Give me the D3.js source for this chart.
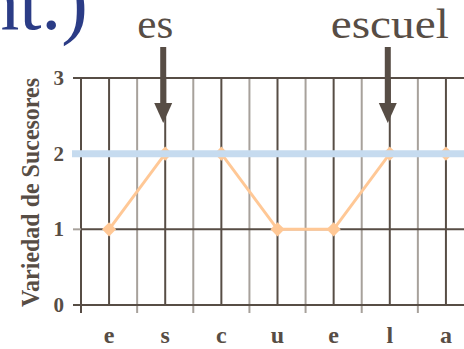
<!DOCTYPE html>
<html>
<head>
<meta charset="utf-8">
<script src="https://cdn.jsdelivr.net/npm/d3@7"></script>
<style>
  html, body { margin: 0; padding: 0; background: #fff; overflow: hidden; }
  svg { display: block; }
</style>
</head>
<body>
<div id="chart"></div>
<script>
var width = 464;
var height = 349;

// letters of the word, one per position
var letters = ["e", "s", "c", "u", "e", "l", "a"];
// successor variety for each prefix
var successors = [1, 2, 2, 1, 1, 2, 2];
var yTicks = [0, 1, 2, 3];
var threshold = 2;
// arrows over the cut points
var cutLabels = ["es", "escuel"];
var cutIndex = [1, 5];

var dark = "#574d45";
var light = "#a7a19b";
var serif = "'Liberation Serif', 'Times New Roman', serif";

var svg = d3.select("#chart")
    .append("svg")
    .attr("width", width)
    .attr("height", height)
    .attr("font-family", serif);

var x = d3.scaleBand()
    .domain(d3.range(letters.length))
    .range([81, 474]);

var y = d3.scaleLinear()
    .domain([0, 3])
    .range([305, 78]);

function cx(i) { return x(i) + x.bandwidth() / 2; }

// title fragment, cut off at the top-left
svg.append("text")
    .attr("x", 88)
    .attr("y", 29)
    .attr("text-anchor", "end")
    .attr("font-size", 80)
    .attr("fill", "#2b3c86")
    .text("(cont.)");

var grid = svg.append("g");

// boundary lines (lighter) with ticks below the axis
var bounds = d3.range(letters.length + 1).map(function(i) {
  return i < letters.length ? x(i) : x(i - 1) + x.bandwidth();
});
grid.selectAll(".bound")
    .data(bounds)
  .enter().append("line")
    .attr("x1", function(d) { return d; })
    .attr("x2", function(d) { return d; })
    .attr("y1", y(3))
    .attr("y2", y(0) + 8)
    .attr("stroke", function(d, i) { return i == 0 ? dark : light; })
    .attr("stroke-width", 2);

// lines through each letter
grid.selectAll(".center")
    .data(letters)
  .enter().append("line")
    .attr("x1", function(d, i) { return cx(i); })
    .attr("x2", function(d, i) { return cx(i); })
    .attr("y1", y(3))
    .attr("y2", y(0))
    .attr("stroke", dark)
    .attr("stroke-width", 2);

// horizontal lines + y ticks
grid.selectAll(".hline")
    .data(yTicks)
  .enter().append("line")
    .attr("x1", 81)
    .attr("x2", width)
    .attr("y1", function(d) { return y(d); })
    .attr("y2", function(d) { return y(d); })
    .attr("stroke", dark)
    .attr("stroke-width", 2);

grid.selectAll(".ytick")
    .data(yTicks)
  .enter().append("line")
    .attr("x1", 73)
    .attr("x2", 81)
    .attr("y1", function(d) { return y(d); })
    .attr("y2", function(d) { return y(d); })
    .attr("stroke", function(d) { return (d == 0 || d == 3) ? dark : light; })
    .attr("stroke-width", 2);

// y tick labels
svg.selectAll(".ylab")
    .data(yTicks)
  .enter().append("text")
    .attr("x", 64)
    .attr("y", function(d) { return y(d) + 7; })
    .attr("text-anchor", "end")
    .attr("font-size", 21)
    .attr("font-weight", "bold")
    .attr("fill", dark)
    .text(function(d) { return d; });

// x tick labels
svg.selectAll(".xlab")
    .data(letters)
  .enter().append("text")
    .attr("x", function(d, i) { return cx(i); })
    .attr("y", 343)
    .attr("text-anchor", "middle")
    .attr("font-size", 24)
    .attr("font-weight", "bold")
    .attr("fill", dark)
    .text(function(d) { return d; });

// y axis title
svg.append("text")
    .attr("transform", "translate(39," + (y(0) + 2) + ") rotate(-90)")
    .attr("font-size", 25)
    .attr("font-weight", "bold")
    .attr("fill", dark)
    .attr("textLength", 229)
    .attr("lengthAdjust", "spacingAndGlyphs")
    .text("Variedad de Sucesores");

// successor variety line
var line = d3.line()
    .x(function(d, i) { return cx(i); })
    .y(function(d) { return y(d); });

svg.append("path")
    .datum(successors)
    .attr("d", line)
    .attr("fill", "none")
    .attr("stroke", "#ffc896")
    .attr("stroke-width", 3);

svg.selectAll(".pt")
    .data(successors)
  .enter().append("path")
    .attr("transform", function(d, i) { return "translate(" + cx(i) + "," + y(d) + ") rotate(45)"; })
    .attr("d", "M-5,-5H5V5H-5Z")
    .attr("fill", "#ffc896");

// threshold line
svg.append("line")
    .attr("x1", 72)
    .attr("x2", width)
    .attr("y1", y(threshold))
    .attr("y2", y(threshold))
    .attr("stroke", "#c6dbef")
    .attr("stroke-width", 7);

// arrows with prefixes
var ann = svg.selectAll(".ann")
    .data(cutIndex)
  .enter().append("g")
    .attr("transform", function(d) { return "translate(" + (cx(d) - 2) + ",0)"; });

ann.append("rect")
    .attr("x", -3)
    .attr("y", 47)
    .attr("width", 6)
    .attr("height", 58);

ann.append("path")
    .attr("d", "M-9,103L9,103L0,123Z");

ann.attr("fill", dark);

ann.append("text")
    .attr("x", function(d, i) { return i == 0 ? -8 : 2; })
    .attr("y", 38)
    .attr("text-anchor", "middle")
    .attr("font-size", 42)
    .attr("fill", dark)
    .attr("textLength", function(d, i) { return i == 0 ? 36 : 118; })
    .attr("lengthAdjust", "spacingAndGlyphs")
    .text(function(d, i) { return cutLabels[i]; });
</script>
</body>
</html>
